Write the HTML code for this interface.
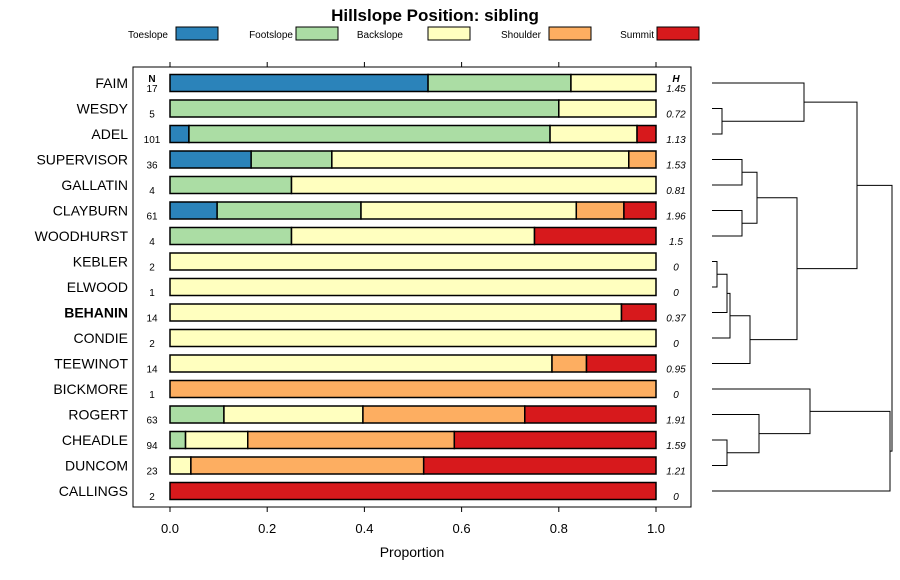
<!DOCTYPE html>
<html><head><meta charset="utf-8"><style>
body{margin:0;background:#fff;overflow:hidden;}
svg{font-family:"Liberation Sans",sans-serif;display:block;}
</style></head><body>
<svg id="chart" width="900" height="580" viewBox="0 0 900 580">
<text x="435" y="21" text-anchor="middle" font-size="17" font-weight="bold">Hillslope Position: sibling</text>
<g id="legend"></g>
<rect x="133" y="67" width="558" height="440" fill="none" stroke="#000" stroke-width="1"/>
<text x="152" y="82" font-size="10" font-weight="bold" text-anchor="middle">N</text>
<text x="676" y="82" font-size="10" font-weight="bold" font-style="italic" text-anchor="middle">H</text>
<g id="axes"></g><g id="bars"></g><g id="dendro"></g>
<text x="412" y="557" font-size="14" text-anchor="middle">Proportion</text>
</svg>
<script>
const names=["FAIM","WESDY","ADEL","SUPERVISOR","GALLATIN","CLAYBURN","WOODHURST","KEBLER","ELWOOD","BEHANIN","CONDIE","TEEWINOT","BICKMORE","ROGERT","CHEADLE","DUNCOM","CALLINGS"];
const nVals=[17,5,101,36,4,61,4,2,1,14,2,14,1,63,94,23,2];
const hVals=["1.45","0.72","1.13","1.53","0.81","1.96","1.5","0","0","0.37","0","0.95","0","1.91","1.59","1.21","0"];
const toeslope=[0.531,0,0.039,0.167,0,0.097,0,0,0,0,0,0,0,0,0,0,0];
const footslope=[0.294,0.8,0.743,0.166,0.25,0.296,0.25,0,0,0,0,0,0,0.111,0.032,0,0];
const backslope=[0.175,0.2,0.179,0.611,0.75,0.443,0.5,1,1,0.929,1,0.786,0,0.286,0.128,0.043,0];
const shoulder=[0,0,0,0.056,0,0.098,0,0,0,0,0,0.071,1,0.333,0.425,0.479,0];
const summit=[0,0,0.039,0,0,0.066,0.25,0,0,0.071,0,0.143,0,0.27,0.415,0.478,1];
const classes=["Toeslope","Footslope","Backslope","Shoulder","Summit"];
const colors=["#2b83ba","#abdda4","#ffffbf","#fdae61","#d7191c"];
const ticks=[0,0.2,0.4,0.6,0.8,1.0];
const tickLabels=["0.0","0.2","0.4","0.6","0.8","1.0"];
// dendrogram: [left,right,merge-x]
const tree=[
 [[0,[1,2,722],804],[[[3,4,742],[5,6,742],757],[[[[7,8,717],9,727],10,730],11,750],797],857],
 [[12,[13,[14,15,727],759],810],16,890],
 892];
const NS="http://www.w3.org/2000/svg";
const svg=document.getElementById('chart');
function mk(t,a,p){const e=document.createElementNS(NS,t);for(const k in a)e.setAttribute(k,a[k]);(p||svg).appendChild(e);return e;}
const X=v=>170+v*486, Y=i=>83+i*25.5;
const leg=document.getElementById('legend');
const legX=[[168,176],[293,296],[403,428],[541,549],[654,657]];
classes.forEach((c,i)=>{
 const t=mk('text',{x:legX[i][0],y:38,'font-size':10,'text-anchor':'end'},leg);t.textContent=c;
 
 
 const r=mk('rect',{x:legX[i][1],y:27,width:42,height:13,fill:colors[i],stroke:'#000'},leg);
 
 
});
const ax=document.getElementById('axes');
ticks.forEach((v,i)=>{
 mk('line',{x1:X(v),x2:X(v),y1:62,y2:67,stroke:'#000'},ax);
 mk('line',{x1:X(v),x2:X(v),y1:507,y2:512,stroke:'#000'},ax);
 const t=mk('text',{x:X(v),y:533,'font-size':13,'text-anchor':'middle'},ax);t.textContent=tickLabels[i];
 
 
});
const bars=document.getElementById('bars');
const series=[toeslope,footslope,backslope,shoulder,summit];
names.forEach((n,i)=>{
 const y=Y(i);
 const l=mk('text',{x:128,y:y+5,'font-size':14,'text-anchor':'end','font-weight':n==="BEHANIN"?'bold':'normal'},bars);l.textContent=n;
 
 
 const nt=mk('text',{x:152,y:y+9,'font-size':10,'text-anchor':'middle'},bars);nt.textContent=nVals[i];
 
 
 const ht=mk('text',{x:676,y:y+9,'font-size':10,'font-style':'italic','text-anchor':'middle'},bars);ht.textContent=hVals[i];
 
 
 let c=0;
 series.forEach((s,k)=>{ if(s[i]<=0)return;
  const r=mk('rect',{x:X(c),y:y-8.5,width:X(c+s[i])-X(c),height:17,fill:colors[k],stroke:'#000','stroke-width':1.5},bars);
  
  
  c+=s[i];});
});
const dg=document.getElementById('dendro');
function draw(node){
 if(typeof node==='number')return {x:712,y:Y(node)};
 const a=draw(node[0]),b=draw(node[1]),h=node[2];
 const p=mk('path',{d:`M${a.x},${a.y}H${h}V${b.y}H${b.x}`,fill:'none',stroke:'#000','stroke-width':1},dg);
 
 
 return {x:h,y:(a.y+b.y)/2};
}
draw(tree);
</script>
</body></html>
